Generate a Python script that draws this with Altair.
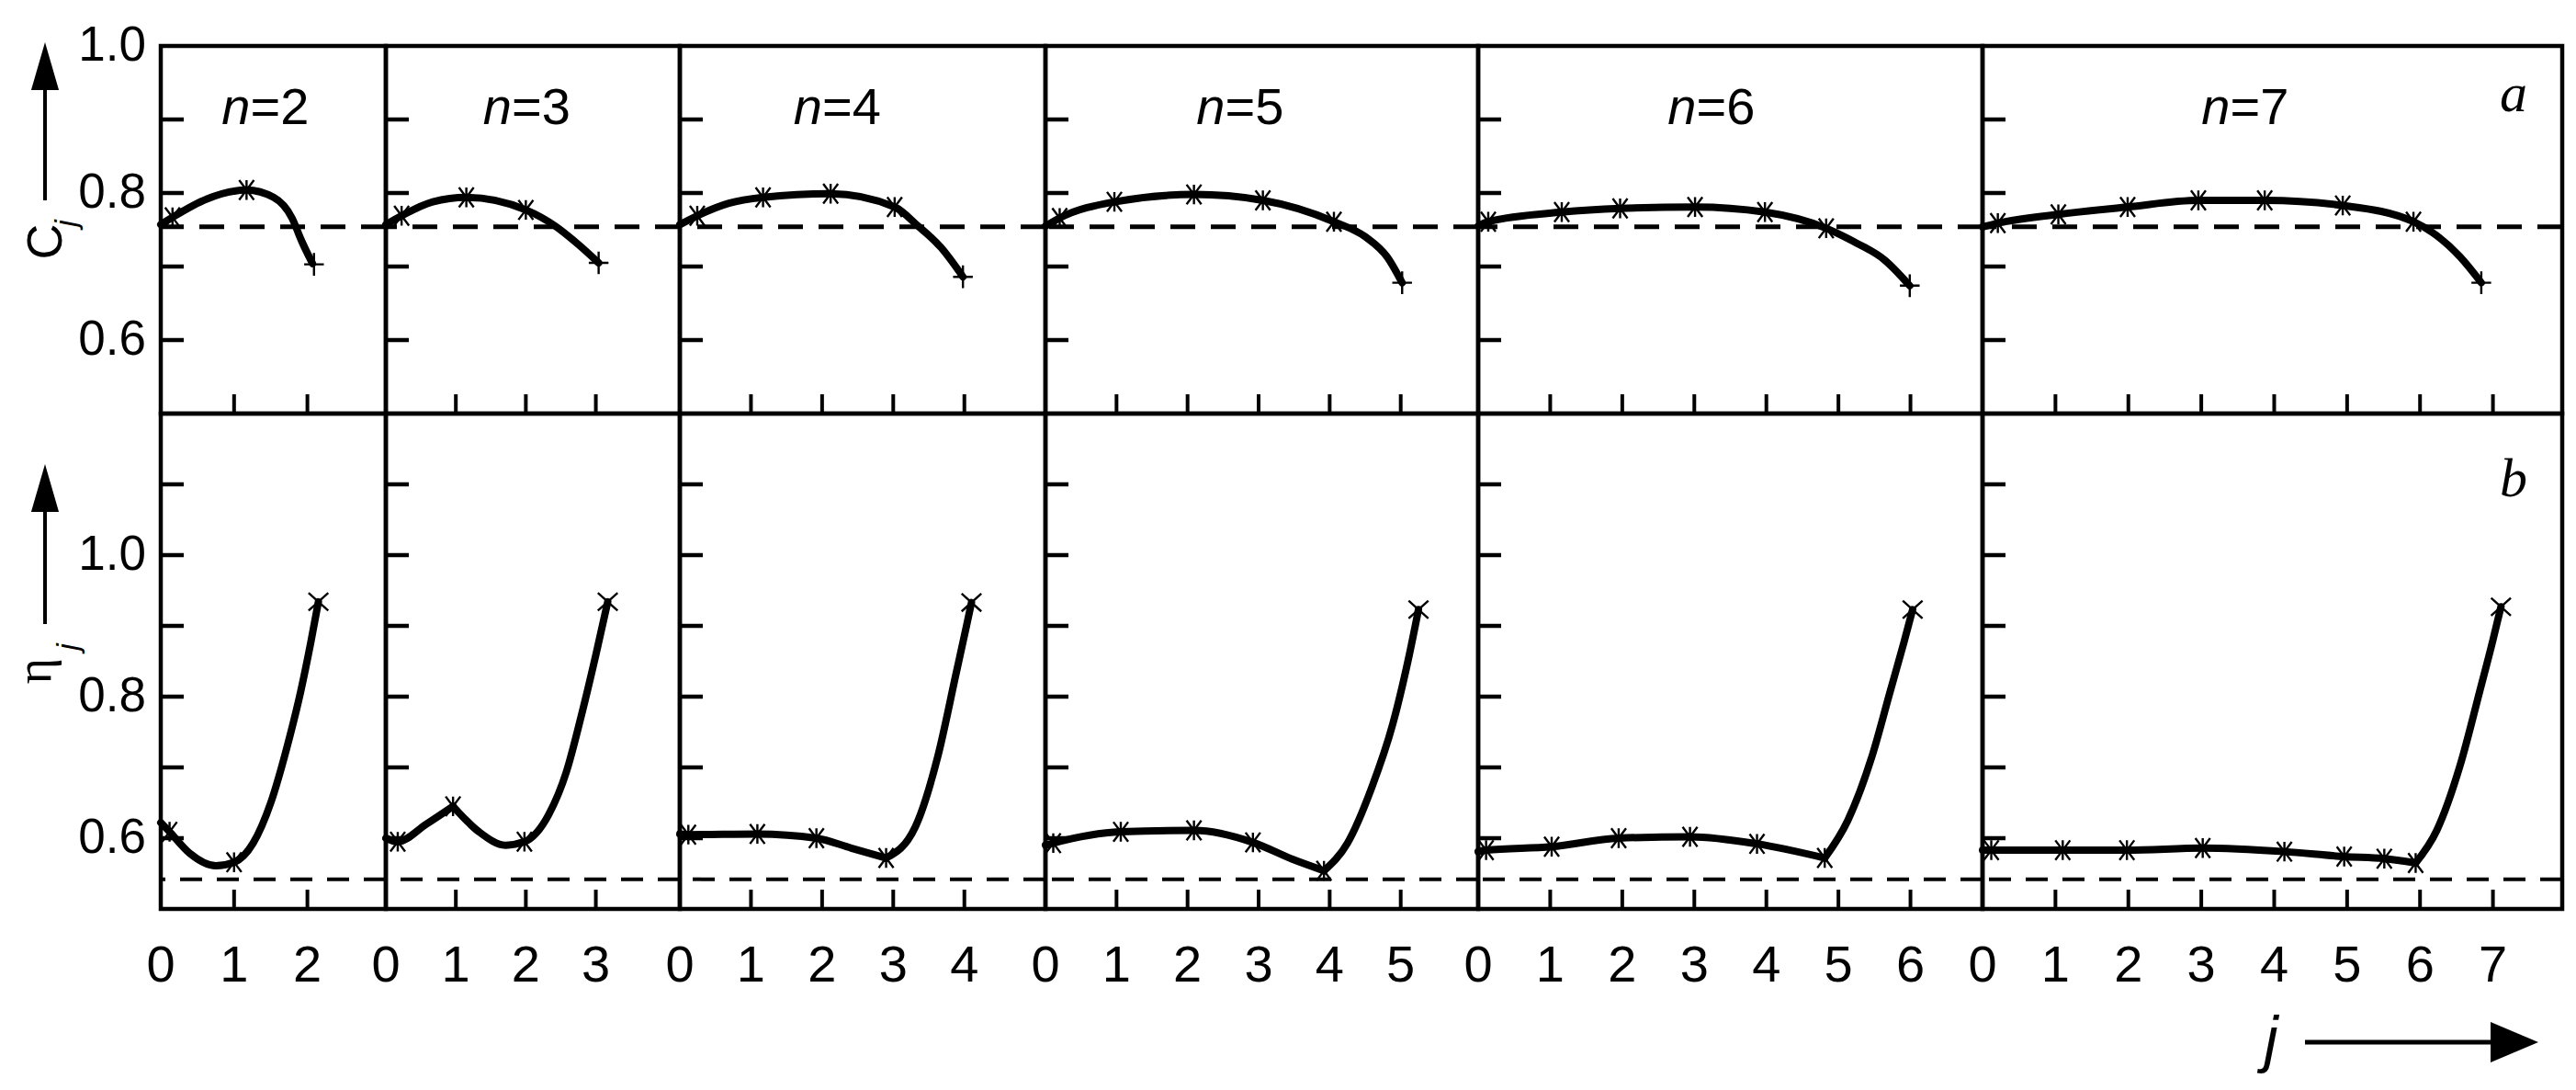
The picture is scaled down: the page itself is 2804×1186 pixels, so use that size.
import altair as alt
import pandas as pd

FONT = "Liberation Sans"
SERIF = "Liberation Serif"

# ---------------- layout of the six panels ----------------
PANELS = [2, 3, 4, 5, 6, 7]
X_MAX = [3.07, 4.2, 5.14, 6.09, 7.0, 7.95]
PANEL_W = [245, 320, 398, 471, 549, 631]
TOP_H = 400
BOT_H = 539
TITLE_DX = [-9, -7, -28, -24, -21, -30]

C_TICKS = [0.6, 0.7, 0.8, 0.9]
C_LABELS = [0.6, 0.8, 1.0]
ETA_TICKS = [0.6, 0.7, 0.8, 0.9, 1.0, 1.1]
ETA_LABELS = [0.6, 0.8, 1.0]
C_DASH = 0.754
ETA_DASH = 0.542

# ---------------- panel a : C_j ----------------
C_CURVE_2 = [(0.0, 0.757), (0.16, 0.767), (0.63, 0.792), (1.17, 0.804), (1.54, 0.794),
             (1.79, 0.766), (1.92, 0.735), (2.07, 0.704)]
C_MARK_2 = [(0.16, 0.767), (1.17, 0.804), (2.09, 0.703)]

C_CURVE_3 = [(0.0, 0.757), (0.225, 0.769), (0.67, 0.788), (1.15, 0.794), (2.0, 0.777),
             (2.42, 0.755), (2.75, 0.730), (3.04, 0.705)]
C_MARK_3 = [(0.225, 0.769), (1.15, 0.794), (2.0, 0.777), (3.04, 0.705)]

C_CURVE_4 = [(0.0, 0.757), (0.245, 0.769), (0.69, 0.786), (1.17, 0.794), (2.12, 0.799),
             (3.02, 0.781), (3.35, 0.755), (3.67, 0.726), (3.98, 0.686)]
C_MARK_4 = [(0.245, 0.769), (1.17, 0.794), (2.12, 0.799), (3.02, 0.781), (3.98, 0.686)]

C_CURVE_5 = [(0.0, 0.755), (0.2, 0.766), (0.97, 0.788), (2.09, 0.798), (3.06, 0.790),
             (4.06, 0.761), (4.51, 0.740), (4.81, 0.713), (5.02, 0.678)]
C_MARK_5 = [(0.2, 0.766), (0.97, 0.788), (2.09, 0.798), (3.06, 0.790), (4.06, 0.761), (5.02, 0.678)]

C_CURVE_6 = [(0.0, 0.755), (0.14, 0.761), (1.16, 0.774), (1.97, 0.779), (3.01, 0.781),
             (3.98, 0.774), (4.83, 0.752), (5.21, 0.734), (5.64, 0.709), (5.99, 0.674)]
C_MARK_6 = [(0.14, 0.761), (1.16, 0.774), (1.97, 0.779), (3.01, 0.781), (3.98, 0.774),
            (4.83, 0.752), (5.99, 0.674)]

C_CURVE_7 = [(0.0, 0.754), (0.21, 0.759), (1.04, 0.771), (1.99, 0.781), (2.96, 0.790),
             (3.87, 0.790), (4.94, 0.783), (5.91, 0.761), (6.23, 0.742), (6.55, 0.713), (6.84, 0.678)]
C_MARK_7 = [(0.21, 0.759), (1.04, 0.771), (1.99, 0.781), (2.96, 0.790), (3.87, 0.790),
            (4.94, 0.783), (5.91, 0.761), (6.84, 0.678)]

# ---------------- panel b : eta_j (segments split at sharp corners) ----------------
ETA_CURVE_2 = [[(0.0, 0.622), (0.12, 0.609), (0.39, 0.579), (0.75, 0.561), (1.0, 0.566),
                (1.26, 0.593), (1.5, 0.650), (1.72, 0.728), (1.91, 0.808), (2.045, 0.876), (2.15, 0.934)]]
ETA_MARK_2 = [(0.12, 0.609), (1.0, 0.566), (2.15, 0.934)]

ETA_CURVE_3 = [[(0.0, 0.600), (0.17, 0.595), (0.58, 0.620), (0.96, 0.645)],
               [(0.96, 0.645), (1.33, 0.609), (1.71, 0.590), (1.98, 0.595), (2.33, 0.634),
                (2.58, 0.694), (2.79, 0.772), (3.0, 0.859), (3.17, 0.934)]]
ETA_MARK_3 = [(0.17, 0.595), (0.96, 0.645), (1.98, 0.595), (3.17, 0.934)]

ETA_CURVE_4 = [[(0.0, 0.606), (0.12, 0.605), (1.09, 0.606), (1.92, 0.600), (2.41, 0.586), (2.9, 0.572)],
               [(2.9, 0.572), (3.31, 0.616), (3.63, 0.717), (3.88, 0.831), (4.03, 0.900), (4.1, 0.933)]]
ETA_MARK_4 = [(0.12, 0.605), (1.09, 0.606), (1.92, 0.600), (2.9, 0.572), (4.1, 0.933)]

ETA_CURVE_5 = [[(0.0, 0.590), (0.11, 0.593), (1.06, 0.609), (2.09, 0.611), (2.92, 0.594),
                (3.48, 0.570), (3.92, 0.554)],
               [(3.92, 0.554), (4.25, 0.593), (4.59, 0.671), (4.89, 0.762), (5.11, 0.854), (5.25, 0.923)]]
ETA_MARK_5 = [(0.11, 0.593), (1.06, 0.609), (2.09, 0.611), (2.92, 0.594), (3.92, 0.554), (5.25, 0.923)]

ETA_CURVE_6 = [[(0.0, 0.581), (0.11, 0.583), (1.02, 0.588), (1.95, 0.600), (2.94, 0.602),
                (3.87, 0.592), (4.81, 0.572)],
               [(4.81, 0.572), (5.13, 0.625), (5.47, 0.717), (5.72, 0.808), (5.91, 0.877), (6.03, 0.923)]]
ETA_MARK_6 = [(0.11, 0.583), (1.02, 0.588), (1.95, 0.600), (2.94, 0.602), (3.87, 0.592),
              (4.81, 0.572), (6.03, 0.923)]

ETA_CURVE_7 = [[(0.0, 0.583), (0.12, 0.583), (1.10, 0.583), (1.98, 0.583), (3.02, 0.586),
                (4.14, 0.581), (4.96, 0.574), (5.51, 0.571), (5.94, 0.565)],
               [(5.94, 0.565), (6.23, 0.611), (6.55, 0.703), (6.82, 0.808), (7.0, 0.880), (7.11, 0.927)]]
ETA_MARK_7 = [(0.12, 0.583), (1.10, 0.583), (1.98, 0.583), (3.02, 0.586), (4.14, 0.581),
              (4.96, 0.574), (5.51, 0.571), (5.94, 0.565), (7.11, 0.927)]

C_CURVES = [[C_CURVE_2], [C_CURVE_3], [C_CURVE_4], [C_CURVE_5], [C_CURVE_6], [C_CURVE_7]]
C_MARKS = [C_MARK_2, C_MARK_3, C_MARK_4, C_MARK_5, C_MARK_6, C_MARK_7]
ETA_CURVES = [ETA_CURVE_2, ETA_CURVE_3, ETA_CURVE_4, ETA_CURVE_5, ETA_CURVE_6, ETA_CURVE_7]
ETA_MARKS = [ETA_MARK_2, ETA_MARK_3, ETA_MARK_4, ETA_MARK_5, ETA_MARK_6, ETA_MARK_7]

# ---------------- symbol paths ----------------
X_MARK = "M-0.75,-1L0.75,1M-0.75,1L0.75,-1M0,-1L0,1"
PLUS_MARK = "M-1,0L1,0M0,-1.15L0,1.15"
BIG_X = "M-1,-0.9L1,0.9M-1,0.9L1,-0.9"
UP_HEAD = "M0,-1L0.58,1L-0.58,1Z"
RIGHT_HEAD = "M1,0L-1,0.85L-1,-0.85Z"
SHAPE_SCALE = alt.Scale(domain=["x", "plus", "bigx"], range=[X_MARK, PLUS_MARK, BIG_X])

ONE = pd.DataFrame({"o": [0]})


def txt(text, x, y, size, font=FONT, style="normal", align="center", baseline="alphabetic", angle=0):
    kw = dict(text=text, font=font, fontSize=size, fontStyle=style, align=align,
              baseline=baseline, color="black")
    if angle:
        kw["angle"] = angle
    return alt.Chart(ONE).mark_text(**kw).encode(x=alt.value(x), y=alt.value(y))


def vrule(x, y1, y2, w=4):
    return alt.Chart(ONE).mark_rule(color="black", strokeWidth=w).encode(
        x=alt.value(x), y=alt.value(y1), y2=alt.value(y2))


def hrule(x1, x2, y, w=5):
    return alt.Chart(ONE).mark_rule(color="black", strokeWidth=w).encode(
        x=alt.value(x1), x2=alt.value(x2), y=alt.value(y))


def head(path, x, y, size=2704):
    return alt.Chart(ONE).mark_point(shape=path, filled=True, size=size, color="black",
                                     opacity=1, strokeWidth=0).encode(x=alt.value(x), y=alt.value(y))


def make_panel(i, top):
    n = PANELS[i]
    w = PANEL_W[i]
    h = TOP_H if top else BOT_H
    xs = alt.Scale(domain=[0, X_MAX[i]], nice=False, zero=False)
    ys = alt.Scale(domain=[0.5, 1.0] if top else [0.5, 1.2], nice=False, zero=False)
    segs = C_CURVES[i] if top else ETA_CURVES[i]
    marks = C_MARKS[i] if top else ETA_MARKS[i]
    end_kind = "plus" if top else "bigx"
    curve_df = pd.DataFrame([{"j": j, "v": v, "seg": s, "k": k}
                             for s, seg in enumerate(segs) for k, (j, v) in enumerate(seg)])
    mark_df = pd.DataFrame([{"j": j, "v": v, "kind": end_kind if k == len(marks) - 1 else "x"}
                            for k, (j, v) in enumerate(marks)])

    X = lambda f: alt.X(f, scale=xs, axis=None)
    Y = lambda f: alt.Y(f, scale=ys, axis=None)

    ytick = alt.Chart(pd.DataFrame({"t": C_TICKS if top else ETA_TICKS})).mark_rule(
        color="black", strokeWidth=4.5).encode(y=Y("t:Q"), x=alt.value(0), x2=alt.value(25))
    xtick = alt.Chart(pd.DataFrame({"t": list(range(1, n + 1))})).mark_rule(
        color="black", strokeWidth=4).encode(x=X("t:Q"), y=alt.value(h - 21), y2=alt.value(h))

    dash = alt.Chart(pd.DataFrame({"v": [C_DASH if top else ETA_DASH]})).mark_rule(
        color="black", strokeWidth=5 if top else 4,
        strokeDash=[27, 17] if top else [24, 16]).encode(y=Y("v:Q"))

    line = alt.Chart(curve_df).mark_line(
        interpolate="monotone", color="black", strokeWidth=8, strokeCap="round",
        strokeJoin="round").encode(x=X("j:Q"), y=Y("v:Q"), detail="seg:N", order="k:Q")

    pts = alt.Chart(mark_df).mark_point(filled=False, color="black", strokeWidth=2.4,
                                        size=460, opacity=1).encode(
        x=X("j:Q"), y=Y("v:Q"),
        shape=alt.Shape("kind:N", scale=SHAPE_SCALE, legend=None))

    layers = [ytick, xtick, dash, line, pts]

    if i == 0:
        ylab = alt.Chart(pd.DataFrame({"t": C_LABELS if top else ETA_LABELS})).mark_text(
            font=FONT, fontSize=53, align="right", baseline="middle", color="black").encode(
            y=Y("t:Q"), x=alt.value(-16), text=alt.Text("t:Q", format=".1f"))
        layers.append(ylab)

    if not top:
        xlab = alt.Chart(pd.DataFrame({"t": list(range(0, n + 1))})).mark_text(
            font=FONT, fontSize=56, align="center", baseline="alphabetic", color="black").encode(
            x=X("t:Q"), y=alt.value(h + 79), text=alt.Text("t:Q", format="d"))
        layers.append(xlab)

    if top:
        c = w / 2 + TITLE_DX[i]
        layers.append(txt("n", c - 16, 85, 56, style="italic", align="right"))
        layers.append(txt("=" + str(n), c - 16, 85, 56, align="left"))
        if i == 5:
            layers.append(txt("a", w - 38, 71, 60, font=SERIF, style="italic", align="right"))
        if i == 0:
            layers.append(alt.Chart(ONE).mark_point(size=1, opacity=0).encode(
                x=alt.value(-164), y=alt.value(-39)))
            layers.append(vrule(-126, 48, 168))
            layers.append(head(UP_HEAD, -126, 22))
            layers.append(txt("C", -108, 213, 54, angle=270))
            layers.append(txt("j", -92, 193, 34, style="italic", angle=270))
    else:
        if i == 5:
            layers.append(txt("b", w - 38, 90, 60, font=SERIF, style="italic", align="right"))
            layers.append(txt("j", 314, 704, 68, style="italic"))
            layers.append(hrule(351, 553, 684))
            layers.append(head(RIGHT_HEAD, 579, 684))
        if i == 0:
            layers.append(vrule(-126, 105, 229))
            layers.append(head(UP_HEAD, -126, 81))
            layers.append(txt("η", -120, 280, 54, font=SERIF, angle=270))
            layers.append(txt("j", -90, 254, 34, style="italic", angle=270))

    return alt.layer(*layers).properties(width=w, height=h)


panels = [make_panel(i, True) for i in range(6)] + [make_panel(i, False) for i in range(6)]

chart = alt.concat(*panels, columns=6, spacing=0, bounds="flush", align="each").properties(
    padding=0, background="white"
).configure_view(stroke="black", strokeWidth=4.5)

chart.save("out.html", embed_options={"renderer": "svg", "actions": False})
